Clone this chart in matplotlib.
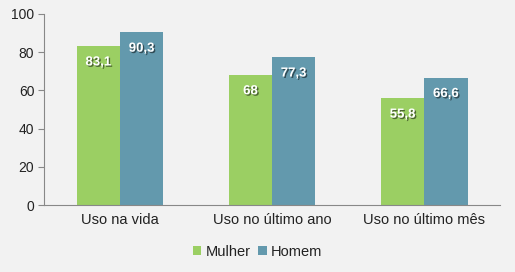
import matplotlib
matplotlib.use("Agg")
import matplotlib.pyplot as plt
import matplotlib.patheffects as pe
import numpy as np

categories = ["Uso na vida", "Uso no último ano", "Uso no último mês"]
mulher = [83.1, 68, 55.8]
homem = [90.3, 77.3, 66.6]
mulher_labels = ["83,1", "68", "55,8"]
homem_labels = ["90,3", "77,3", "66,6"]
series_names = ["Mulher", "Homem"]
yticks = [0, 20, 40, 60, 80, 100]

green = "#9bcf63"
blue = "#6399ad"
bg = "#f2f2f2"

plt.rcParams['font.family'] = ['Liberation Sans', 'DejaVu Sans']

fig = plt.figure(figsize=(5.15, 2.72), dpi=100, facecolor=bg)
ax = fig.add_axes([0.0854, 0.246, 0.886, 0.703])
ax.set_facecolor(bg)

x = np.arange(len(categories))
w = 0.285
b1 = ax.bar(x - w/2, mulher, w, color=green, label=series_names[0])
b2 = ax.bar(x + w/2, homem, w, color=blue, label=series_names[1])

shadow = [pe.SimplePatchShadow(offset=(1, -1), shadow_rgbFace='black', alpha=0.5), pe.Normal()]
for bars, labs in ((b1, mulher_labels), (b2, homem_labels)):
    for r, t in zip(bars, labs):
        ax.text(r.get_x() + r.get_width()/2, r.get_height() - 8.5, t,
                ha='center', va='center', color='white', fontsize=9.5,
                fontweight='bold', path_effects=shadow)

ax.set_xlim(-0.5, 2.5)
ax.set_ylim(0, 100)
ax.set_yticks(yticks)
ax.set_xticks(x)
ax.set_xticklabels(categories, fontsize=10.5, color='#222222')
ax.tick_params(axis='x', length=0, pad=6)
ax.tick_params(axis='y', length=4, direction='out', color='#888888', labelsize=10, labelcolor='#222222', pad=3)
for s in ['top', 'right']:
    ax.spines[s].set_visible(False)
for s in ['left', 'bottom']:
    ax.spines[s].set_color('#888888')

leg = fig.legend(handles=[b1, b2], labels=series_names, loc='center', bbox_to_anchor=(0.5, 0.075),
                 ncol=2, frameon=False, fontsize=10.5, handlelength=0.6, handleheight=0.6,
                 handletextpad=0.3, columnspacing=0.5)
for t in leg.get_texts():
    t.set_color('#222222')

fig.savefig("out.png", dpi=100, facecolor=bg)
